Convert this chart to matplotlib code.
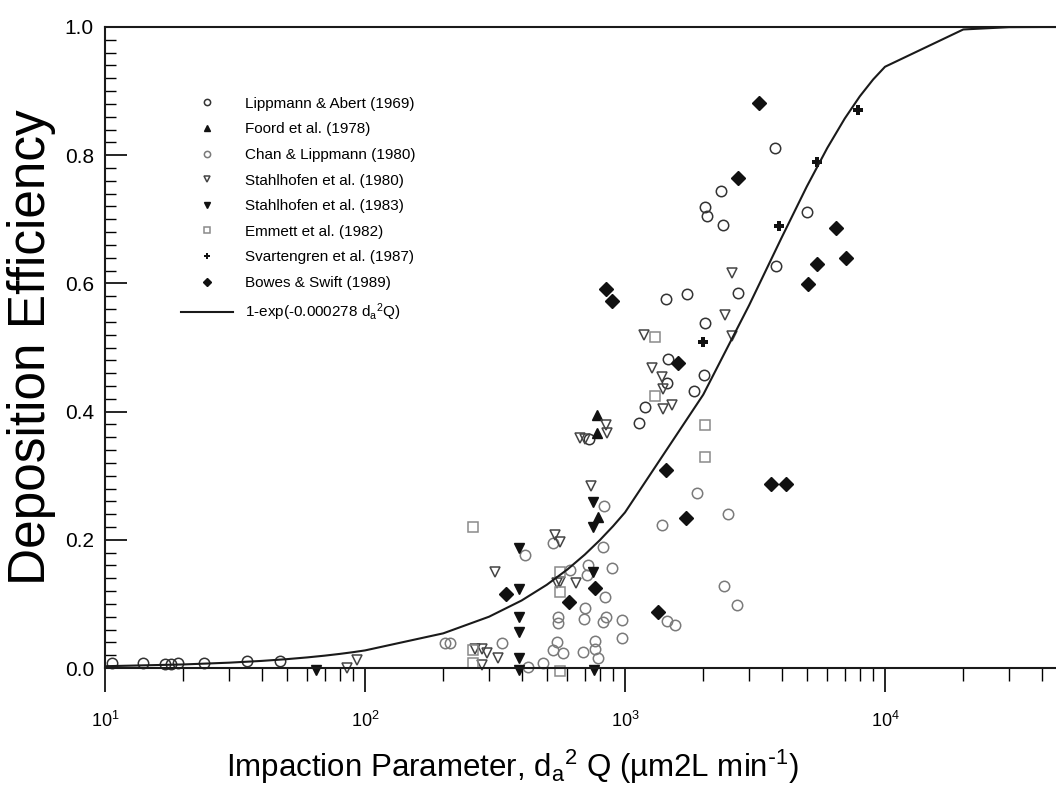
import matplotlib
matplotlib.use("Agg")
import matplotlib.pyplot as plt
import numpy as np
from matplotlib.ticker import MultipleLocator, LogLocator, NullFormatter, FormatStrFormatter

plt.rcParams['font.family'] = ['Liberation Sans', 'DejaVu Sans']
plt.rcParams['mathtext.default'] = 'regular'

# ---- data: (d_a^2 Q, deposition efficiency) ----
lippmann_abert_x = [10.6, 14.0, 17.0, 18.0, 19.1, 24.0, 35.2, 47.1,
                    3760, 2339, 2032, 2066, 2382, 5012, 3810, 1438, 1731,
                    2722, 2032, 1463, 2014, 1841, 1452, 1194, 1132, 727]
lippmann_abert_y = [0.008, 0.008, 0.006, 0.007, 0.008, 0.008, 0.011, 0.011,
                    0.812, 0.744, 0.719, 0.705, 0.691, 0.711, 0.627, 0.576, 0.583,
                    0.585, 0.538, 0.482, 0.457, 0.432, 0.445, 0.407, 0.382, 0.357]

foord_x = [780, 780, 787]
foord_y = [0.395, 0.367, 0.236]

chan_x = [203, 212, 337, 412, 424, 484, 529, 529, 547, 552, 552, 578, 614,
          689, 695, 702, 714, 721, 767, 767, 787, 823, 830, 837, 845, 823,
          891, 973, 973, 1387, 1452, 1556, 1892, 2489, 2404, 2698]
chan_y = [0.039, 0.039, 0.039, 0.176, 0.002, 0.008, 0.195, 0.028, 0.041, 0.080,
          0.070, 0.023, 0.153, 0.025, 0.076, 0.094, 0.145, 0.161, 0.042, 0.030,
          0.016, 0.189, 0.253, 0.111, 0.080, 0.072, 0.156, 0.075, 0.047, 0.223,
          0.073, 0.067, 0.273, 0.240, 0.128, 0.098]

stahl80_x = [85, 93, 265, 282, 294, 325, 282, 316, 538, 562, 547, 562, 648,
             740, 672, 702, 845, 853, 1184, 1270, 1387, 1400, 1400, 1517,
             2425, 2581, 2581]
stahl80_y = [0.0, 0.012, 0.030, 0.030, 0.023, 0.016, 0.005, 0.150, 0.207, 0.197,
             0.133, 0.134, 0.133, 0.284, 0.359, 0.357, 0.379, 0.367, 0.519, 0.468,
             0.454, 0.435, 0.404, 0.410, 0.551, 0.616, 0.518]

stahl83_x = [65, 391, 391, 391, 391, 391, 391, 753, 753, 753, 760]
stahl83_y = [-0.003, 0.187, 0.123, 0.080, 0.056, 0.016, -0.003, 0.259, 0.220,
             0.150, -0.003]

emmett_x = [260, 260, 260, 562, 562, 562, 1304, 1304, 2032, 2032]
emmett_y = [0.220, 0.028, 0.008, 0.150, 0.119, -0.005, 0.516, 0.424, 0.379, 0.329]

svart_x = [7870, 5475, 3910, 1995]
svart_y = [0.870, 0.789, 0.690, 0.509]

bowes_x = [3275, 2722, 6486, 7080, 5475, 5058, 845, 891, 1599, 1438, 1718,
           3646, 4159, 1339, 349, 609, 767]
bowes_y = [0.881, 0.764, 0.686, 0.640, 0.630, 0.599, 0.591, 0.573, 0.476, 0.309,
           0.234, 0.287, 0.287, 0.087, 0.115, 0.103, 0.125]

# fitted curve, evaluated on a 1..9 x 10^k grid like the original
coef = 0.000278
curve_x = np.array([m * 10.0**k for k in range(1, 5) for m in range(1, 10)] + [1e5])
curve_y = 1 - np.exp(-coef * curve_x)

fig = plt.figure(figsize=(10.56, 7.94), dpi=100)
ax = fig.add_axes([105/1056, 1 - 668/794, 962/1056, 641/794])

ms = 7.5
mew = 1.1
ax.plot(lippmann_abert_x, lippmann_abert_y, 'o', ms=ms, mfc='none', mec='#333333', mew=mew,
        label='Lippmann & Abert (1969)', clip_on=False)
ax.plot(foord_x, foord_y, '^', ms=ms, color='#111111', label='Foord et al. (1978)', clip_on=False)
ax.plot(chan_x, chan_y, 'o', ms=ms, mfc='none', mec='#7a7a7a', mew=mew,
        label='Chan & Lippmann (1980)', clip_on=False)
ax.plot(stahl80_x, stahl80_y, 'v', ms=ms, mfc='none', mec='#444444', mew=mew,
        label='Stahlhofen et al. (1980)', clip_on=False)
ax.plot(stahl83_x, stahl83_y, 'v', ms=ms, color='#111111', label='Stahlhofen et al. (1983)',
        clip_on=False)
ax.plot(emmett_x, emmett_y, 's', ms=6.5, mfc='none', mec='#8a8a8a', mew=mew,
        label='Emmett et al. (1982)', clip_on=False)
ax.plot(svart_x, svart_y, 'P', ms=7, color='#111111', mew=0,
        label='Svartengren et al. (1987)', clip_on=False)
ax.plot(bowes_x, bowes_y, 'D', ms=7, color='#111111', label='Bowes & Swift (1989)',
        clip_on=False)
ax.plot(curve_x, curve_y, '-', color='#1a1a1a', lw=1.5, label='1-exp(-0.000278 d$_a$$^2$Q)')

ax.set_xscale('log')
ax.set_xlim(10, 10**(1 + 962/260))
ax.set_ylim(0, 1.0)

# spines / ticks
for s in ['left', 'bottom', 'top']:
    ax.spines[s].set_linewidth(1.5)
    ax.spines[s].set_color('#1a1a1a')
ax.spines['right'].set_visible(False)

ax.yaxis.set_major_locator(MultipleLocator(0.2))
ax.yaxis.set_minor_locator(MultipleLocator(0.02))
ax.yaxis.set_major_formatter(FormatStrFormatter('%.1f'))
ax.xaxis.set_major_locator(LogLocator(base=10, numticks=10))
ax.xaxis.set_minor_locator(LogLocator(base=10, subs=np.arange(2, 10), numticks=20))
ax.xaxis.set_minor_formatter(NullFormatter())

ax.tick_params(axis='y', which='major', direction='in', length=16, width=1.2, pad=8,
               labelsize=15, right=False)
ax.tick_params(axis='y', which='minor', direction='in', length=8, width=1.0, right=False)
ax.tick_params(axis='x', which='major', direction='out', length=17, width=1.2, pad=14,
               labelsize=13, top=False)
ax.tick_params(axis='x', which='minor', direction='out', length=9, width=1.0, top=False)

ax.set_ylabel('Deposition Efficiency', fontsize=37, labelpad=6)
ax.set_xlabel(r'Impaction Parameter, d$_a$$^2$ Q (µm2L min$^{\text{-}1}$)', fontsize=22.5)
ax.xaxis.set_label_coords((513 - 105) / 962, (668 - 748) / 641)

leg = ax.legend(loc='upper left', bbox_to_anchor=(167/1056, 1 - 83/794),
                bbox_transform=fig.transFigure, frameon=False, markerscale=0.6,
                handlelength=3.4, handletextpad=0.8, labelspacing=0.76,
                prop={'size': 11})

fig.savefig('out.png', dpi=100)
